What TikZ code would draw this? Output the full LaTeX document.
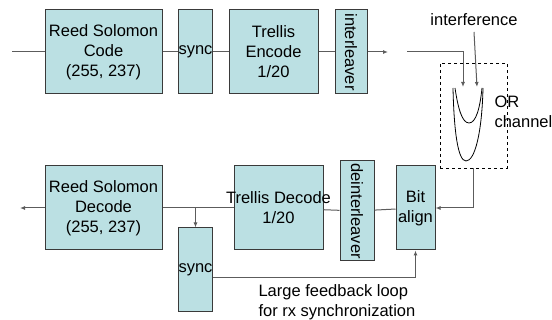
\documentclass[tikz,border=0pt]{standalone}
\usepackage{fontspec}
\setmainfont{Liberation Sans}
\usetikzlibrary{arrows.meta}
\definecolor{boxfill}{HTML}{BBE0E3}
\definecolor{boxline}{HTML}{3A3A3A}
\definecolor{wire}{HTML}{5C5C5C}
\begin{document}
\begin{tikzpicture}[x=1pt, y=-1pt,
        every node/.style={font=\fontsize{16.5}{20}\selectfont},
        blk/.style={draw=boxline, fill=boxfill, line width=1pt, inner sep=0pt, align=center},
        wr/.style={draw=wire, line width=1pt},
        arr/.style={wr, -{Latex[length=5pt,width=4pt]}}]
        \useasboundingbox (0,0) rectangle (552,320);
        \node[blk, minimum width=117pt, minimum height=84pt] (rsc) at (103.5,52) {Reed Solomon\\Code\\(255, 237)};
        \node[blk, minimum width=33pt, minimum height=84pt] (synct) at (195.5,52) {sync};
        \node[blk, minimum width=89pt, minimum height=84pt] (tenc) at (273.5,52) {Trellis\\Encode\\1/20};
        \node[blk, minimum width=84pt, minimum height=32pt, rotate=-90] (intl) at (351,52) {interleaver};
        \node[blk, minimum width=117pt, minimum height=84pt] (rsd) at (103.5,208) {Reed Solomon\\Decode\\(255, 237)};
        \node[blk, minimum width=89pt, minimum height=84pt,
            label={[align=center]center:Trellis Decode\\1/20}] (tdec) at (278.5,208) {};
        \node[blk, minimum width=100pt, minimum height=34pt, rotate=-90] (deintl) at (357,211) {deinterleaver};
        \node[blk, minimum width=39pt, minimum height=84pt] (bital) at (415.5,208) {Bit\\align};
        \node[blk, minimum width=33pt, minimum height=84pt] (syncb) at (195.5,270) {sync};
        \node[draw=black, dashed, line width=0.8pt, minimum width=67pt, minimum height=105pt] (chan) at (473.5,115.5) {};
        \node (intf) at (474,20) {interference};
        \node[align=left, anchor=west] (orlab) at (491,112) {OR\\channel};
        \node[align=left, anchor=west] (loop) at (255,302) {Large feedback loop\\for rx synchronization};
        \coordinate (in) at (12,52);
        \coordinate (txend) at (388,52);
        \coordinate (rxin) at (407,52);
        \coordinate (gatea) at (463,87);
        \coordinate (gateb) at (477,87);
        \coordinate (out) at (20,208);
        \coordinate (tap) at (195.5,208);
        \draw[wr] (in) -- (rsc);
        \draw[wr] (rsc) -- (synct);
        \draw[wr] (synct) -- (tenc);
        \draw[wr] (tenc) -- (intl);
        \draw[arr] (intl) -- (txend);
        \draw[arr] (rxin) -| (gatea);
        \draw[arr] (intf.south |- 0,32) -- (gateb);
        \draw[line width=0.8pt] (453,88) .. controls (454,132) and (458,161) .. (466,161) .. controls (475,161) and (482,132) .. (483,88);
        \draw[line width=0.8pt] (455,88) .. controls (458,108) and (462,123) .. (469,123) .. controls (476,123) and (480,108) .. (482,88);
        \draw[arr] (chan.south) |- (bital.east);
        \draw[wr] (bital) -- (deintl);
        \draw[wr] (deintl) -- (tdec);
        \draw[wr] (tdec) -- (rsd);
        \draw[arr] (rsd) -- (out);
        \draw[arr] (tap) -- (syncb);
        \draw[arr] ([yshift=-8pt]syncb.east) -| (bital.south);
    \end{tikzpicture}
\end{document}
